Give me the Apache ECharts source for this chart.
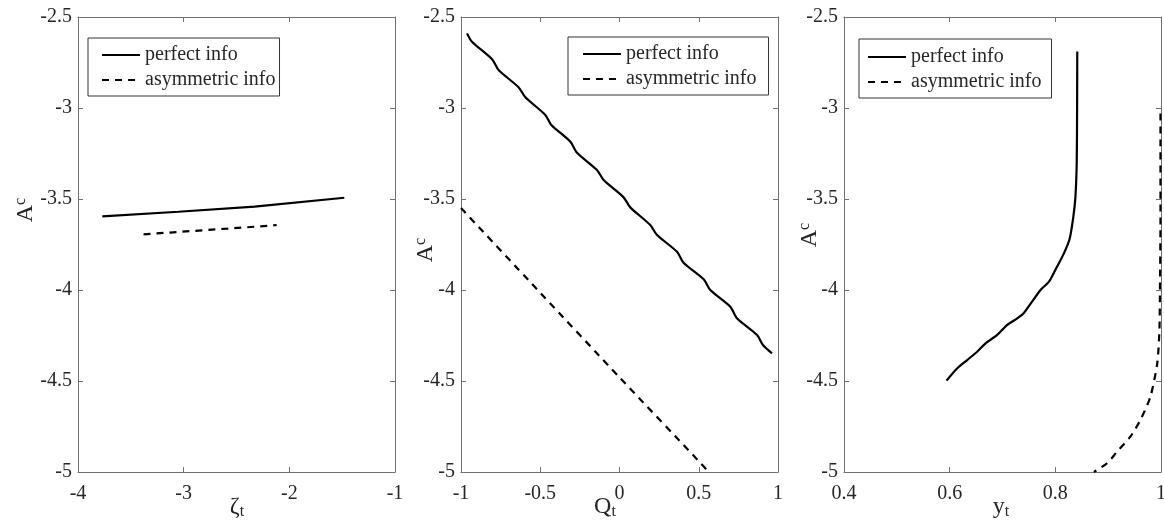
<!DOCTYPE html>
<html>
<head>
<meta charset="utf-8">
<script src="https://cdn.jsdelivr.net/npm/echarts@6/dist/echarts.min.js"></script>
<style>
    html, body { margin: 0; padding: 0; background: #fff; }
    #chart { width: 1164px; height: 524px; }
</style>
</head>
<body>
<div id="chart"></div>
<script>
    // panel 1 : A^c against zeta_t
    var zetaPerfect = [-3.77, -3.05, -2.33, -1.48];
    var acZetaPerfect = [-3.595, -3.570, -3.542, -3.493];
    var zetaAsym = [-3.38, -2.19, -2.12];
    var acZetaAsym = [-3.694, -3.647, -3.643];

    // panel 2 : A^c against Q_t
    var qPerfect = [-0.962, -0.931, -0.804, -0.763, -0.637, -0.594, -0.468, -0.430, -0.310, -0.268,
        -0.142, -0.100, 0.026, 0.068, 0.194, 0.237, 0.363, 0.404, 0.531, 0.573, 0.699, 0.741, 0.868, 0.905, 0.962];
    var acQPerfect = [-2.590, -2.636, -2.732, -2.791, -2.886, -2.941, -3.038, -3.093, -3.185, -3.246,
        -3.341, -3.396, -3.491, -3.546, -3.643, -3.698, -3.790, -3.850, -3.941, -4.000, -4.092, -4.155, -4.247, -4.302, -4.348];
    var qAsym = [-1.0, -0.5, 0.0, 0.5, 0.562];
    var acQAsym = [-3.55, -4.015, -4.48, -4.94, -5.0];

    // panel 3 : A^c against y_t
    var yPerfect = [0.8415, 0.8412, 0.8405, 0.838, 0.834, 0.827, 0.816, 0.800, 0.788, 0.772, 0.756,
        0.740, 0.728, 0.709, 0.690, 0.668, 0.652, 0.633, 0.614, 0.594];
    var acYPerfect = [-2.69, -3.0, -3.3, -3.49, -3.60, -3.72, -3.80, -3.89, -3.954, -4.0, -4.064,
        -4.128, -4.156, -4.192, -4.247, -4.293, -4.339, -4.385, -4.431, -4.498];
    var yAsym = [0.999, 0.999, 0.998, 0.997, 0.993, 0.980, 0.961, 0.942, 0.917, 0.898, 0.873];
    var acYAsym = [-3.03, -3.6, -4.0, -4.22, -4.40, -4.586, -4.714, -4.806, -4.888, -4.952, -5.0];

    var seriesNames = ['perfect info', 'asymmetric info'];

    function zip(xs, ys) {
        return xs.map(function (x, i) { return [x, ys[i]]; });
    }

    var font = 'Liberation Serif';
    var axisColor = '#707070';
    var textColor = '#262626';
    var gridLefts = [78, 461, 844];

    var chartDom = document.getElementById('chart');
    var myChart = echarts.init(chartDom);

    var xRanges = [[-4, -1, 1], [-1, 1, 0.5], [0.4, 1, 0.2]];

    var grids = [], xAxes = [], yAxes = [], series = [], legends = [];
    gridLefts.forEach(function (left, g) {
        grids.push({ left: left, top: 17, width: 317, height: 455, outerBoundsMode: 'none' });
        // bottom + top x axes
        [true, false].forEach(function (main) {
            xAxes.push({
                type: 'value', gridIndex: g, position: main ? 'bottom' : 'top',
                min: xRanges[g][0], max: xRanges[g][1], interval: xRanges[g][2],
                axisLine: { show: true, onZero: false, lineStyle: { color: axisColor, width: 1 } },
                axisTick: { show: true, inside: true, length: 5, lineStyle: { color: axisColor } },
                axisLabel: { show: main, margin: 12, color: textColor, fontFamily: font, fontSize: 20 },
                splitLine: { show: false }
            });
        });
        // left + right y axes
        [true, false].forEach(function (main) {
            yAxes.push({
                type: 'value', gridIndex: g, position: main ? 'left' : 'right',
                min: -5, max: -2.5, interval: 0.5,
                axisLine: { show: true, onZero: false, lineStyle: { color: axisColor, width: 1 } },
                axisTick: { show: true, inside: true, length: 5, lineStyle: { color: axisColor } },
                axisLabel: { show: main, margin: 6, color: textColor, fontFamily: font, fontSize: 20 },
                splitLine: { show: false }
            });
        });
    });

    var panelData = [
        [zip(zetaPerfect, acZetaPerfect), zip(zetaAsym, acZetaAsym)],
        [zip(qPerfect, acQPerfect), zip(qAsym, acQAsym)],
        [zip(yPerfect, acYPerfect), zip(yAsym, acYAsym)]
    ];
    var smoothing = [false, 0.25, 0.25];
    panelData.forEach(function (pair, g) {
        series.push({
            name: seriesNames[0], type: 'line', xAxisIndex: g * 2, yAxisIndex: g * 2,
            data: pair[0], symbol: 'none', clip: true, smooth: smoothing[g],
            lineStyle: { color: '#000', width: 2.2 }, itemStyle: { color: '#000' }
        });
        series.push({
            name: seriesNames[1], type: 'line', xAxisIndex: g * 2, yAxisIndex: g * 2,
            data: pair[1], symbol: 'none', clip: true, smooth: smoothing[g],
            lineStyle: { color: '#000', width: 2.2, type: [7, 6] }, itemStyle: { color: '#000' }
        });
    });

    // MATLAB style legend boxes
    var legendPos = [
        { left: 88, top: 38, padding: [7, 4, 6, 13] },
        { left: 568, top: 37, padding: [7, 12, 6, 14] },
        { left: 859, top: 39, padding: [8, 10, 6, 8] }
    ];
    legendPos.forEach(function (p) {
        legends.push({
            data: seriesNames, orient: 'vertical', left: p.left, top: p.top, padding: p.padding,
            itemWidth: 38, itemHeight: 14, itemGap: 5,
            backgroundColor: '#fff', borderColor: '#333', borderWidth: 1, borderRadius: 0,
            itemStyle: { opacity: 0 },
            textStyle: { color: textColor, fontFamily: font, fontSize: 20 },
            selectedMode: false
        });
    });

    function axisName(x, y, main, sub, rotated) {
        return {
            type: 'text', x: x, y: y, rotation: rotated ? Math.PI / 2 : 0,
            style: {
                text: '{m|' + main + '}{s|' + sub + '}',
                align: 'center', verticalAlign: 'middle',
                rich: {
                    m: { fontFamily: font, fontSize: 24, lineHeight: 26, fill: textColor },
                    s: { fontFamily: font, fontSize: 16, lineHeight: 16, fill: textColor,
                        verticalAlign: rotated ? 'top' : 'bottom' }
                }
            }
        };
    }

    var option = {
        backgroundColor: '#fff',
        animation: false,
        grid: grids,
        xAxis: xAxes,
        yAxis: yAxes,
        legend: legends,
        series: series,
        graphic: { elements: [
            axisName(237, 507, 'ζ', 't', false),
            axisName(605, 507, 'Q', 't', false),
            axisName(1001, 507, 'y', 't', false),
            axisName(26, 210, 'A', 'c', true),
            axisName(426, 250, 'A', 'c', true),
            axisName(810, 235, 'A', 'c', true)
        ] }
    };

    option && myChart.setOption(option);
</script>
</body>
</html>
